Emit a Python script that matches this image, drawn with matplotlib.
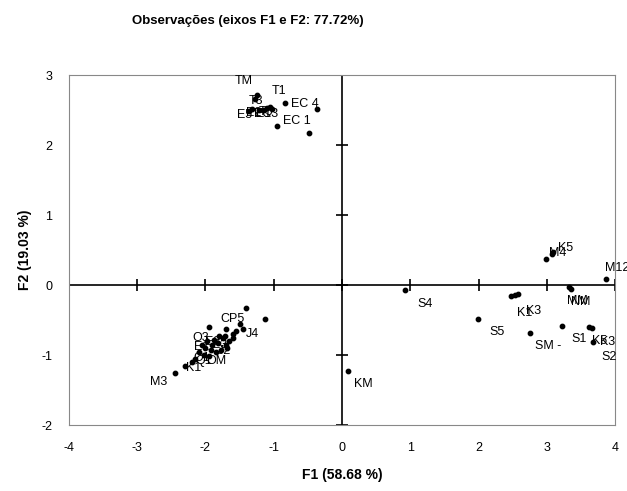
import matplotlib
matplotlib.use("Agg")
import matplotlib.pyplot as plt

plt.rcParams['font.family'] = ['Liberation Sans', 'DejaVu Sans']
plt.rcParams['axes.unicode_minus'] = False

names = ["TM", "T3", "T1", "T2", "T4", "T5", "EC2", "EC3", "EC5", "EC4", "ECM", "EC1", "ECX",
         "CP5", "J4", "CP1", "CP2", "CP3", "CP4", "CPM", "J1", "J2", "J3", "J5", "JM",
         "O1", "O2", "O3", "O4", "O5", "OM", "K1", "K2", "M5", "M3", "KX",
         "E1", "E2", "E3", "E4", "E5", "EM", "Q1", "Q2",
         "S4", "S5", "K1b", "K3", "K4", "M4", "K5", "M3b", "MM", "NM", "M2",
         "SM", "S1", "K5b", "K3b", "S2", "KM"]
f1 = [-1.25, -1.28, -1.05, -1.32, -1.15, -1.10, -1.36, -1.22, -1.02, -0.83, -0.37, -0.95, -0.48,
      -1.41, -1.13, -1.80, -1.70, -1.50, -1.45, -1.60, -1.75, -1.70, -1.60, -1.55, -1.65,
      -2.10, -2.00, -1.95, -1.90, -1.85, -1.95, -2.20, -2.15, -2.30, -2.45, -1.98,
      -2.05, -1.88, -1.78, -1.72, -1.82, -2.02, -1.92, -1.68,
      0.92, 1.99, 2.48, 2.53, 2.58, 2.99, 3.08, 3.09, 3.33, 3.36, 3.87,
      2.75, 3.22, 3.62, 3.66, 3.68, 0.09]
f2 = [2.72, 2.66, 2.55, 2.52, 2.50, 2.53, 2.49, 2.50, 2.52, 2.60, 2.51, 2.28, 2.17,
      -0.33, -0.48, -0.72, -0.62, -0.56, -0.62, -0.76, -0.76, -0.86, -0.70, -0.66, -0.80,
      -0.96, -0.90, -0.60, -0.86, -0.96, -1.01, -1.10, -1.05, -1.15, -1.25, -0.80,
      -0.85, -0.78, -0.92, -0.72, -0.82, -1.00, -0.92, -0.90,
      -0.07, -0.48, -0.16, -0.14, -0.13, 0.37, 0.45, 0.47, -0.03, -0.05, 0.085,
      -0.68, -0.58, -0.60, -0.61, -0.81, -1.22]

# label text shown next to each point ("" = hidden) and its offset in points
shown = ["TM", "T3", "T1", "E2", "EC3", "T5", "E5", "E1", "", "EC 4", "", "EC 1", "",
         "CP5", "J4", "", "", "", "", "", "", "J2", "", "", "",
         "O1", "", "O3", "", "", "OM", "K1", "", "", "M3", "",
         "E1", "E2", "", "", "E3", "Q1", "", "",
         "S4", "S5", "K1", "K3", "", "M4", "K5", "", "MM", "NM", "M12",
         "SM -", "S1", "K5", "K3", "S2", "KM"]
offsets = [(-16, 8), (-4, -4), (1, 9), (-4, -5), (-7, -5), (-6, -5), (-9, -5), (-2, -5), (0, 0),
           (4, -3), (0, 0), (4, 1), (0, 0),
           (-18, -10), (-14, -13), (0, 0), (0, 0), (0, 0), (0, 0), (0, 0), (0, 0), (-6, -6), (0, 0), (0, 0), (0, 0),
           (-4, -6), (0, 0), (-12, -10), (0, 0), (0, 0), (-2, -6), (-4, -6), (0, 0), (0, 0), (-18, -9), (0, 0),
           (-6, -4), (-6, -4), (0, 0), (0, 0), (-4, -4), (-6, -6), (0, 0), (0, 0),
           (9, -12), (8, -12), (4, -14), (8, -14), (0, 0), (2, 2), (4, 2), (0, 0), (-2, -12), (0, -12), (-1, 6),
           (4, -12), (7, -12), (2, -12), (6, -12), (6, -13), (4, -12)]

fig = plt.figure(figsize=(6.27, 4.91), dpi=100)
ax = fig.add_axes([0.110, 0.134, 0.871, 0.713])

ax.axhline(0, color='black', lw=1.2, zorder=1)
ax.axvline(0, color='black', lw=1.2, zorder=1)
# cross ticks on the centre axes
ax.plot(range(-4, 5), [0] * 9, ls='none', marker='|', ms=8, mew=1.2, color='black', zorder=1)
ax.plot([0] * 6, range(-2, 4), ls='none', marker='_', ms=8, mew=1.2, color='black', zorder=1)

ax.scatter(f1, f2, s=10, color='black', zorder=3)
for name, x, y, (dx, dy) in zip(shown, f1, f2, offsets):
    if name:
        ax.annotate(name, (x, y), xytext=(dx, dy), textcoords='offset points',
                    fontsize=9, color='black', annotation_clip=False)

ax.set_xlim(-4, 4)
ax.set_ylim(-2, 3)
ax.set_xticks(range(-4, 5))
ax.set_yticks(range(-2, 4))
ax.tick_params(length=0, labelsize=9, pad=12)
for s in ax.spines.values():
    s.set_color('#888888')
    s.set_linewidth(0.8)

ax.set_xlabel("F1 (58.68 %)", fontsize=10, fontweight='bold', labelpad=10)
ax.set_ylabel("F2 (19.03 %)", fontsize=10, fontweight='bold', labelpad=7)
fig.text(0.395, 0.958, "Observações (eixos F1 e F2: 77.72%)", fontsize=9.5,
         fontweight='bold', ha='center', va='center')

fig.savefig("out.png", dpi=100)
